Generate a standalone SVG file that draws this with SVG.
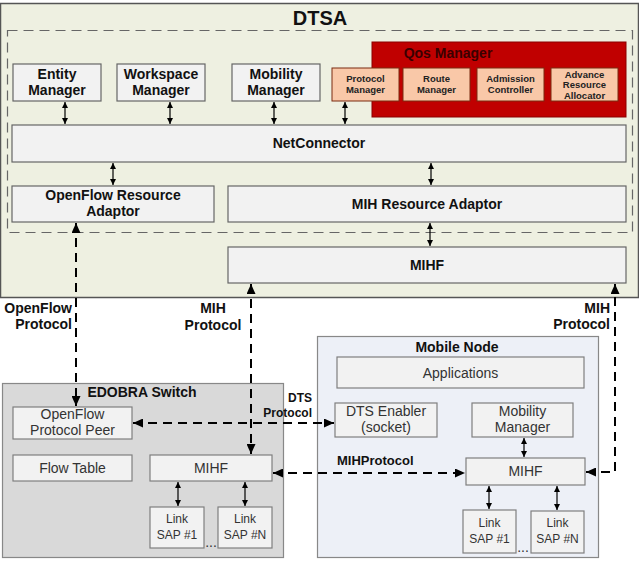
<svg xmlns="http://www.w3.org/2000/svg" width="639" height="563" viewBox="0 0 639 563">
<defs>
<style>
.bx{fill:#F2F2F2;stroke:#666;stroke-width:1.2}
.lb{fill:#F2F2F2;stroke:#7F7F7F;stroke-width:1.2}
.pe{fill:#F9C8A8;stroke:#7A2A10;stroke-width:1}
.tb{font-family:"Liberation Sans",Arial,sans-serif;font-weight:bold;font-size:14px;fill:#111;text-anchor:middle}
.tp{font-family:"Liberation Sans",Arial,sans-serif;font-weight:bold;font-size:9.5px;fill:#222;text-anchor:middle}
.tr{font-family:"Liberation Sans",Arial,sans-serif;font-size:14px;fill:#333;text-anchor:middle}
.ts{font-family:"Liberation Sans",Arial,sans-serif;font-size:12px;fill:#333;text-anchor:middle}
.tl{font-family:"Liberation Sans",Arial,sans-serif;font-weight:bold;font-size:13px;fill:#111}
.dl{fill:none;stroke:#000;stroke-width:2;stroke-dasharray:9,6;marker-start:url(#big);marker-end:url(#big)}
.sl{fill:none;stroke:#000;stroke-width:1.2;marker-start:url(#sm);marker-end:url(#sm)}
</style>
<marker id="big" viewBox="0 0 10 9" refX="10" refY="4.5" markerWidth="10" markerHeight="9" markerUnits="userSpaceOnUse" orient="auto-start-reverse"><path d="M0,0 L10,4.5 L0,9 z" fill="#000"/></marker>
<marker id="sm" viewBox="0 0 6 6" refX="6" refY="3" markerWidth="6" markerHeight="6" markerUnits="userSpaceOnUse" orient="auto-start-reverse"><path d="M0,0 L6,3 L0,6 z" fill="#000"/></marker>
</defs>
<rect width="639" height="563" fill="#fff"/>

<g id="dtsa">
<rect x="0.5" y="3.5" width="638" height="294" fill="#EEF0E1" stroke="#555" stroke-width="1.5"/>
<rect x="7.5" y="30.5" width="625" height="202" fill="none" stroke="#666" stroke-width="1.2" stroke-dasharray="10,6"/>
<text x="320" y="25" class="tb" style="font-size:20px">DTSA</text>
</g>

<g id="entity-manager"><rect class="bx" x="13" y="64" width="88" height="37"/><text class="tb" x="57" y="79">Entity</text><text class="tb" x="57" y="95">Manager</text></g>
<g id="workspace-manager"><rect class="bx" x="117" y="64" width="88" height="37"/><text class="tb" x="161" y="79">Workspace</text><text class="tb" x="161" y="95">Manager</text></g>
<g id="mobility-manager"><rect class="bx" x="232" y="64" width="88" height="37"/><text class="tb" x="276" y="79">Mobility</text><text class="tb" x="276" y="95">Manager</text></g>

<g id="qos-manager">
<rect x="372" y="42" width="254" height="75" fill="#C00000" stroke="#8A0000" stroke-width="1"/>
<text class="tb" x="448" y="58" style="fill:#3A0000">Qos Manager</text>
</g>
<g id="protocol-manager"><rect class="pe" x="332" y="68" width="67" height="33"/><text class="tp" x="365.5" y="82">Protocol</text><text class="tp" x="365.5" y="93">Manager</text></g>
<g id="route-manager"><rect class="pe" x="403" y="68" width="67" height="33"/><text class="tp" x="436.5" y="82">Route</text><text class="tp" x="436.5" y="93">Manager</text></g>
<g id="admission-controller"><rect class="pe" x="477" y="68" width="67" height="33"/><text class="tp" x="510.5" y="82">Admission</text><text class="tp" x="510.5" y="93">Controller</text></g>
<g id="advance-resource-allocator"><rect class="pe" x="551" y="68" width="67" height="33"/><text class="tp" x="584.5" y="77.5">Advance</text><text class="tp" x="584.5" y="88">Resource</text><text class="tp" x="584.5" y="98.5">Allocator</text></g>

<g id="netconnector"><rect class="bx" x="12" y="125" width="614" height="37"/><text class="tb" x="319" y="148">NetConnector</text></g>
<g id="openflow-resource-adaptor"><rect class="bx" x="12" y="186" width="202" height="36"/><text class="tb" x="113" y="200">OpenFlow Resource</text><text class="tb" x="113" y="216">Adaptor</text></g>
<g id="mih-resource-adaptor"><rect class="bx" x="228" y="186" width="398" height="36"/><text class="tb" x="427" y="209">MIH Resource Adaptor</text></g>
<g id="mihf-dtsa"><rect class="bx" x="228" y="247" width="398" height="36"/><text class="tb" x="427" y="270">MIHF</text></g>

<g id="edobra-switch">
<rect x="2.5" y="383.5" width="281" height="174" fill="#D9D9D9" stroke="#888" stroke-width="1.2"/>
<text class="tb" x="142" y="397">EDOBRA Switch</text>
</g>
<g id="openflow-protocol-peer"><rect class="lb" x="13" y="407" width="119" height="32"/><text class="tr" x="72.5" y="419">OpenFlow</text><text class="tr" x="72.5" y="435">Protocol Peer</text></g>
<g id="flow-table"><rect class="lb" x="13" y="455" width="119" height="26"/><text class="tr" x="72.5" y="473">Flow Table</text></g>
<g id="mihf-edobra"><rect class="lb" x="150" y="455" width="122" height="26"/><text class="tr" x="211" y="473">MIHF</text></g>
<g id="link-sap-1-edobra"><rect class="lb" x="150" y="507" width="54" height="41"/><text class="ts" x="177" y="523">Link</text><text class="ts" x="177" y="539">SAP #1</text></g>
<g id="link-sap-n-edobra"><rect class="lb" x="218" y="507" width="54" height="41"/><text class="ts" x="245" y="523">Link</text><text class="ts" x="245" y="539">SAP #N</text></g>
<text class="tr" x="211" y="547">...</text>

<g id="mobile-node">
<rect x="317.5" y="336.5" width="281" height="221" fill="#EDF0F7" stroke="#888" stroke-width="1.2"/>
<text class="tb" x="457" y="352">Mobile Node</text>
</g>
<g id="applications"><rect class="lb" x="337" y="357" width="247" height="31"/><text class="tr" x="460.5" y="378">Applications</text></g>
<g id="dts-enabler"><rect class="lb" x="335" y="403" width="102" height="34"/><text class="tr" x="386" y="416">DTS Enabler</text><text class="tr" x="386" y="432">(socket)</text></g>
<g id="mobility-manager-mn"><rect class="lb" x="472" y="403" width="101" height="34"/><text class="tr" x="522.5" y="416">Mobility</text><text class="tr" x="522.5" y="432">Manager</text></g>
<g id="mihf-mn"><rect class="lb" x="466" y="458" width="119" height="27"/><text class="tr" x="525.5" y="476">MIHF</text></g>
<g id="link-sap-1-mn"><rect class="lb" x="463" y="510" width="53" height="43"/><text class="ts" x="489.5" y="527">Link</text><text class="ts" x="489.5" y="543">SAP #1</text></g>
<g id="link-sap-n-mn"><rect class="lb" x="531" y="511" width="53" height="42"/><text class="ts" x="557.5" y="527">Link</text><text class="ts" x="557.5" y="543">SAP #N</text></g>
<text class="tr" x="523" y="552">...</text>

<g id="connectors">
<line class="sl" x1="65" y1="102" x2="65" y2="124"/>
<line class="sl" x1="170" y1="102" x2="170" y2="124"/>
<line class="sl" x1="274" y1="102" x2="274" y2="124"/>
<line class="sl" x1="345" y1="102" x2="345" y2="124"/>
<line class="sl" x1="113" y1="163" x2="113" y2="185"/>
<line class="sl" x1="431" y1="163" x2="431" y2="185"/>
<line class="sl" x1="430" y1="223" x2="430" y2="246"/>
<line class="sl" x1="178" y1="482" x2="178" y2="506"/>
<line class="sl" x1="245" y1="482" x2="245" y2="506"/>
<line class="sl" x1="524" y1="438" x2="524" y2="457"/>
<line class="sl" x1="489" y1="486" x2="489" y2="509"/>
<line class="sl" x1="557" y1="486" x2="557" y2="510"/>

<path class="dl" d="M76,223 V406"/>
<path class="dl" d="M251,284 V454"/>
<path class="dl" d="M586,472 H615 V284"/>
<path class="dl" d="M133,423 H334"/>
<path class="dl" d="M273,473 H465"/>

<text class="tl" x="72" y="313" text-anchor="end" style="font-size:14px">OpenFlow</text>
<text class="tl" x="72" y="329" text-anchor="end" style="font-size:14px">Protocol</text>
<text class="tl" x="213" y="313" text-anchor="middle" style="font-size:14px">MIH</text>
<text class="tl" x="213" y="330" text-anchor="middle" style="font-size:14px">Protocol</text>
<text class="tl" x="610" y="313" text-anchor="end" style="font-size:14px">MIH</text>
<text class="tl" x="610" y="329" text-anchor="end" style="font-size:14px">Protocol</text>
<text class="tl" x="312" y="402" text-anchor="end" style="font-size:12px">DTS</text>
<text class="tl" x="312" y="417" text-anchor="end" style="font-size:12px">Protocol</text>
<text class="tl" x="337" y="465">MIHProtocol</text>
</g>
</svg>
